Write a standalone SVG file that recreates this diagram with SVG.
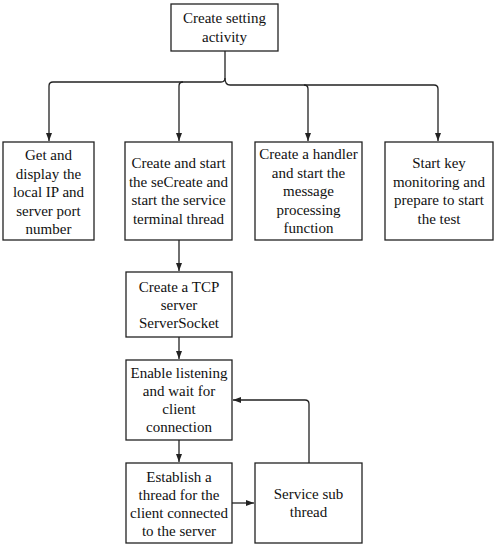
<svg xmlns="http://www.w3.org/2000/svg" width="496" height="550" viewBox="0 0 496 550">
<style>
.b{fill:#fff;stroke:#222;stroke-width:1.3}
text{font-family:"Liberation Serif","Times New Roman",serif;font-size:15px;fill:#111;text-anchor:middle}
.c{fill:none;stroke:#222;stroke-width:1.3}
</style>
<defs>
<marker id="a" markerWidth="8" markerHeight="6" refX="8" refY="3" orient="auto" markerUnits="userSpaceOnUse">
<path d="M0,0 L8,3 L0,6 Z" fill="#222"/>
</marker>
</defs>
<rect width="496" height="550" fill="#fff"/>
<g id="connectors">
<path class="c" d="M225,51 V78 Q225,82 221,82 H53 Q49,82 49,86 V141" marker-end="url(#a)"/>
<path class="c" d="M225,78 Q225,85 230,85 H434 Q438,85 438,89 V141" marker-end="url(#a)"/>
<path class="c" d="M183,82 Q179,82 179,86 V141" marker-end="url(#a)"/>
<path class="c" d="M304,85 Q308,85 308,89 V141" marker-end="url(#a)"/>
<path class="c" d="M179,240 V271" marker-end="url(#a)"/>
<path class="c" d="M179,337 V359" marker-end="url(#a)"/>
<path class="c" d="M179,440 V462" marker-end="url(#a)"/>
<path class="c" d="M232,503 H254" marker-end="url(#a)"/>
<path class="c" d="M309,463 V404 Q309,400 305,400 H233" marker-end="url(#a)"/>
</g>
<g id="n1"><rect class="b" x="171" y="4" width="107" height="47"/><text x="224.5" y="23">Create setting</text><text x="224.5" y="42">activity</text></g>
<g id="n2"><rect class="b" x="3" y="142" width="91" height="98"/><text x="48.5" y="160">Get and</text><text x="48.5" y="178.5">display the</text><text x="48.5" y="197">local IP and</text><text x="48.5" y="215.5">server port</text><text x="48.5" y="234">number</text></g>
<g id="n3"><rect class="b" x="125" y="142" width="107" height="98"/><text x="178.5" y="168">Create and start</text><text x="178.5" y="186.5">the seCreate and</text><text x="178.5" y="205">start the service</text><text x="178.5" y="223.5">terminal thread</text></g>
<g id="n4"><rect class="b" x="255" y="142" width="107" height="98"/><text x="308.5" y="159">Create a handler</text><text x="308.5" y="177.5">and start the</text><text x="308.5" y="196">message</text><text x="308.5" y="214.5">processing</text><text x="308.5" y="233">function</text></g>
<g id="n5"><rect class="b" x="385" y="142" width="108" height="98"/><text x="439" y="168">Start key</text><text x="439" y="186.5">monitoring and</text><text x="439" y="205">prepare to start</text><text x="439" y="223.5">the test</text></g>
<g id="n6"><rect class="b" x="126" y="272" width="106" height="65"/><text x="179" y="292">Create a TCP</text><text x="179" y="310">server</text><text x="179" y="328">ServerSocket</text></g>
<g id="n7"><rect class="b" x="126" y="360" width="106" height="80"/><text x="179" y="378">Enable listening</text><text x="179" y="396">and wait for</text><text x="179" y="414">client</text><text x="179" y="432">connection</text></g>
<g id="n8"><rect class="b" x="126" y="463" width="106" height="80"/><text x="179" y="482">Establish a</text><text x="179" y="500">thread for the</text><text x="179" y="518">client connected</text><text x="179" y="536">to the server</text></g>
<g id="n9"><rect class="b" x="255" y="463" width="107" height="80"/><text x="308.5" y="499">Service sub</text><text x="308.5" y="517">thread</text></g>
</svg>
